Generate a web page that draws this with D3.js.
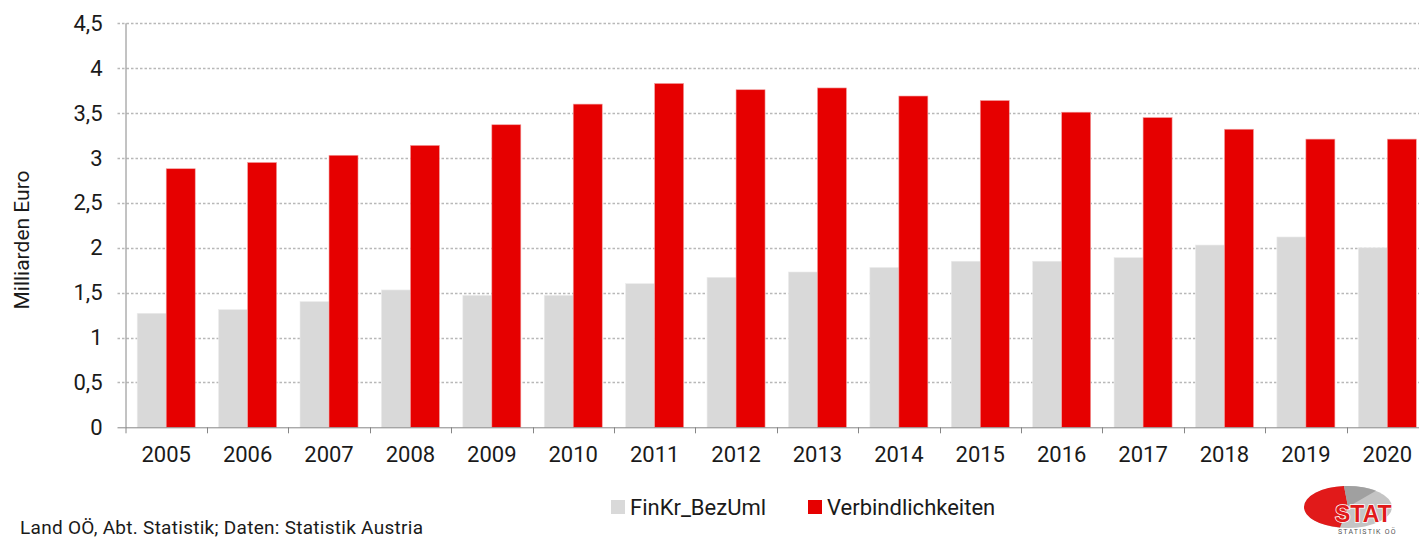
<!DOCTYPE html>
<html>
<head>
<meta charset="utf-8">
<script src="https://cdn.jsdelivr.net/npm/d3@7"></script>
<style>
  body { margin: 0; background: #fff; }
  text { font-family: Roboto, "Open Sans", sans-serif; fill: #1a1a1a; }
</style>
</head>
<body>
<script>
var years = ["2005", "2006", "2007", "2008", "2009", "2010", "2011", "2012",
             "2013", "2014", "2015", "2016", "2017", "2018", "2019", "2020"];
var seriesNames = ["FinKr_BezUml", "Verbindlichkeiten"];
var finKr = [1.27, 1.31, 1.40, 1.53, 1.47, 1.47, 1.60, 1.67,
             1.73, 1.78, 1.85, 1.85, 1.89, 2.03, 2.12, 2.00];
var verbindlichkeiten = [2.88, 2.95, 3.03, 3.14, 3.37, 3.60, 3.83, 3.76,
                         3.78, 3.69, 3.64, 3.51, 3.45, 3.32, 3.21, 3.21];
var yTicks = [0, 0.5, 1, 1.5, 2, 2.5, 3, 3.5, 4, 4.5];
var colors = ["#d9d9d9", "#e60000"];

DrawChart();

function DrawChart() {
  var width = 1419, height = 540;
  var left = 125.5, right = 1428, plotTop = 23.3, bottom = 427.3;

  var svg = d3.select("body").append("svg")
    .attr("width", width)
    .attr("height", height);

  var x = d3.scaleBand().domain(years).range([left, right]);
  var xInner = d3.scaleBand().domain(seriesNames)
    .range([11.7, x.bandwidth() - 11.7]);
  var y = d3.scaleLinear().domain([0, 4.5]).range([bottom, plotTop]);

  var fmt = d => String(d).replace(".", ",");

  // dashed gridlines, reaching a bit left of the axis as ticks
  svg.append("g")
    .selectAll("line")
    .data(yTicks.filter(d => d > 0))
    .enter()
    .append("line")
    .attr("x1", left - 8)
    .attr("x2", width)
    .attr("y1", d => Math.round(y(d)) + 0.5)
    .attr("y2", d => Math.round(y(d)) + 0.5)
    .attr("stroke", "#b8b8b8")
    .attr("stroke-width", 1.3)
    .attr("stroke-dasharray", "2.5,2");

  // bars
  var table = years.map((yr, i) => ({year: yr, values: [finKr[i], verbindlichkeiten[i]]}));

  var groups = svg.append("g")
    .selectAll("g")
    .data(table)
    .enter()
    .append("g")
    .attr("transform", d => `translate(${x(d.year)},0)`);

  groups.selectAll("rect")
    .data(d => d.values.map((v, j) => ({name: seriesNames[j], value: v, j: j})))
    .enter()
    .append("rect")
    .attr("x", d => xInner(d.name))
    .attr("width", xInner.bandwidth())
    .attr("y", d => y(d.value))
    .attr("height", d => bottom - y(d.value))
    .attr("fill", d => colors[d.j])
    .attr("stroke", d => d.j == 1 ? "#f2a0a0" : "#ececec")
    .attr("stroke-width", 0.6);

  // y axis
  var yAxis = d3.axisLeft(y).tickValues(yTicks).tickSize(0).tickPadding(0).tickFormat(fmt);
  var gy = svg.append("g")
    .attr("transform", `translate(${left},0)`)
    .call(yAxis);
  gy.select(".domain").remove();
  gy.selectAll("text")
    .attr("x", -23)
    .attr("font-size", "22px")
    .attr("fill", "#1a1a1a")
    .style("font-family", "Roboto, sans-serif");
  gy.append("line")
    .attr("x1", 0.5).attr("x2", 0.5)
    .attr("y1", plotTop).attr("y2", bottom + 6)
    .attr("stroke", "#868686");
  gy.append("line")
    .attr("x1", -8).attr("x2", 0)
    .attr("y1", bottom + 0.5).attr("y2", bottom + 0.5)
    .attr("stroke", "#868686");

  // x axis
  var xAxis = d3.axisBottom(x).tickSize(0).tickPadding(0);
  var gx = svg.append("g")
    .attr("transform", `translate(0,${bottom})`)
    .call(xAxis);
  gx.select(".domain").remove();
  gx.selectAll("text")
    .attr("y", 35)
    .attr("dy", 0)
    .attr("font-size", "22px")
    .attr("fill", "#1a1a1a")
    .style("font-family", "Roboto, sans-serif");
  gx.append("line")
    .attr("x1", left).attr("x2", width)
    .attr("y1", 0.5).attr("y2", 0.5)
    .attr("stroke", "#868686");
  gx.selectAll(".sep")
    .data(years.slice(1))
    .enter()
    .append("line")
    .attr("class", "sep")
    .attr("x1", d => Math.round(x(d)) + 0.5)
    .attr("x2", d => Math.round(x(d)) + 0.5)
    .attr("y1", 0)
    .attr("y2", 6)
    .attr("stroke", "#868686");

  // y axis title
  svg.append("text")
    .attr("transform", "translate(29,240) rotate(-90)")
    .attr("text-anchor", "middle")
    .attr("font-size", "21px")
    .text("Milliarden Euro");

  // legend
  var legendX = [611, 808];
  var legend = svg.append("g")
    .selectAll("g")
    .data(seriesNames)
    .enter()
    .append("g")
    .attr("transform", (d, i) => `translate(${legendX[i]},500)`);
  legend.append("rect")
    .attr("width", 14)
    .attr("height", 14)
    .attr("fill", (d, i) => colors[i]);
  legend.append("text")
    .attr("x", 19)
    .attr("y", 15)
    .attr("font-size", "22px")
    .text(d => d);

  // footer
  svg.append("text")
    .attr("x", 20)
    .attr("y", 534)
    .attr("font-size", "19px")
    .attr("textLength", 403)
    .attr("lengthAdjust", "spacing")
    .text("Land OÖ, Abt. Statistik; Daten: Statistik Austria");

  // logo
  var logo = svg.append("g").attr("transform", "translate(1348,507)");
  logo.append("ellipse")
    .attr("rx", 44).attr("ry", 21)
    .attr("fill", "#c4c4c4");
  logo.append("path")
    .attr("d", "M0,0 L-4,-21 A44,21 0 0 0 -44,0 A44,21 0 0 0 -8,20.6 Z")
    .attr("fill", "#e11a1a");
  logo.append("path")
    .attr("d", "M0,0 L-4,-21 A44,21 0 0 1 28,-16.2 Z")
    .attr("fill", "#a0a0a0");
  logo.append("text")
    .attr("x", -13).attr("y", 15)
    .attr("font-size", "23px")
    .attr("font-weight", "bold")
    .style("font-family", "'Liberation Sans', Arial, sans-serif")
    .style("fill", "#e11a1a")
    .attr("stroke", "#fff")
    .attr("stroke-width", 1.5)
    .attr("paint-order", "stroke")
    .text("STAT");
  logo.append("text")
    .attr("x", -10).attr("y", 27)
    .attr("font-size", "7px")
    .attr("letter-spacing", "1.2px")
    .style("fill", "#555")
    .text("STATISTIK OÖ");
}
</script>
</body>
</html>
